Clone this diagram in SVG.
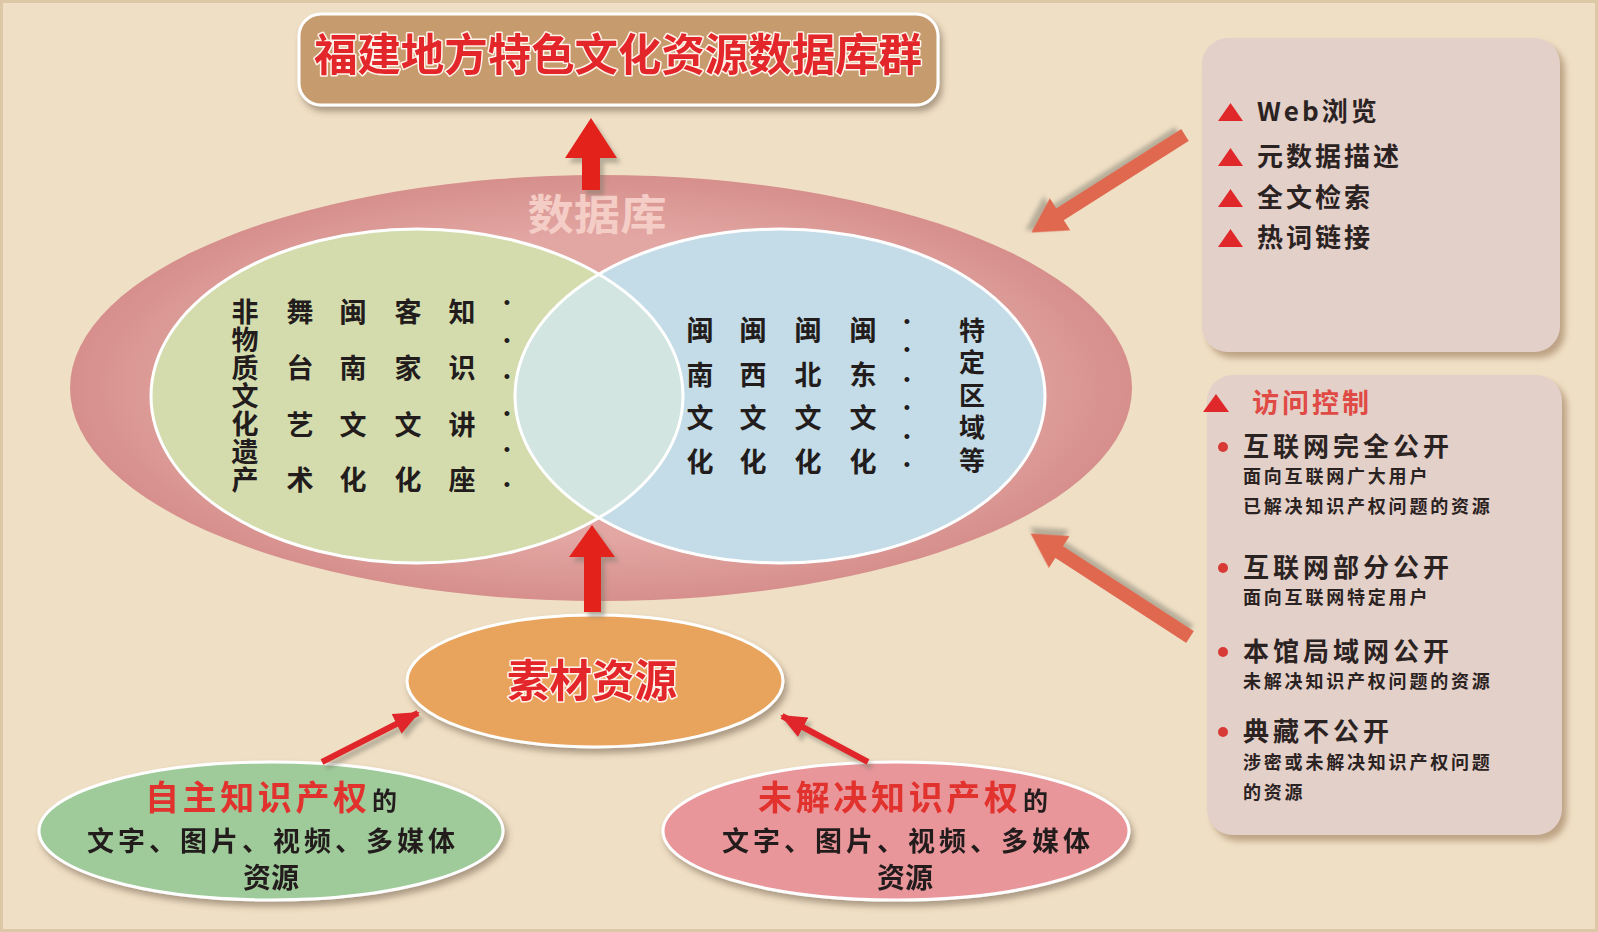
<svg xmlns="http://www.w3.org/2000/svg" width="1598" height="932" viewBox="0 0 1598 932">
<defs>
<style>
.cjk{font-family:"Noto Sans CJK SC","Noto Sans",sans-serif;font-weight:bold}
.red3d{fill:#e2262a;stroke:#fff3ea;stroke-width:3;paint-order:stroke;stroke-linejoin:round}
.blk{fill:#231c1c}
.ptxt{fill:#2b2222}
.venn{font-size:27px;text-anchor:middle}
.vert{writing-mode:vertical-rl;text-anchor:start}
.dot{font-family:"Liberation Sans",Arial,sans-serif;font-size:18px;text-anchor:middle;fill:#231c1c}
.tri{fill:#e0282a}
.bul{fill:#d83a36}
</style>
<filter id="sh" x="-10%" y="-20%" width="125%" height="150%">
<feDropShadow dx="3" dy="5" stdDeviation="3" flood-color="#5a4530" flood-opacity="0.45"/>
</filter>
<filter id="shs" x="-20%" y="-20%" width="150%" height="150%">
<feDropShadow dx="4" dy="5" stdDeviation="2" flood-color="#7d7a6a" flood-opacity="0.5"/>
</filter>
<filter id="shp" x="-10%" y="-10%" width="125%" height="125%">
<feDropShadow dx="5" dy="6" stdDeviation="3" flood-color="#b89c7e" flood-opacity="0.9"/>
</filter>
<radialGradient id="gPink" cx="50%" cy="50%" r="50%">
<stop offset="0.7" stop-color="#e3a7a3"/>
<stop offset="1" stop-color="#d68f8c"/>
</radialGradient>
<clipPath id="cGreen"><ellipse cx="417" cy="396" rx="266" ry="167"/></clipPath>
<marker id="ah" markerUnits="userSpaceOnUse" markerWidth="26" markerHeight="22" viewBox="0 0 26 22" refX="24" refY="11" orient="auto">
<path d="M0,0 L26,11 L0,22 Z" fill="#e0282a"/>
</marker>
</defs>

<rect x="0" y="0" width="1598" height="932" fill="#efdfc5"/>
<rect x="1.5" y="1.5" width="1595" height="929" fill="none" stroke="#dcc7a6" stroke-width="3"/>

<g id="title" filter="url(#sh)">
<rect x="299" y="14" width="639" height="91" rx="22" fill="#c69c6e" stroke="#ffffff" stroke-width="3"/>
<text class="cjk red3d" x="314" y="71" font-size="44" textLength="608" lengthAdjust="spacingAndGlyphs">福建地方特色文化资源数据库群</text>
</g>

<g id="database">
<ellipse cx="601" cy="388" rx="531" ry="213" fill="url(#gPink)"/>
<text class="cjk" x="597" y="230" font-size="42" text-anchor="middle" fill="#f4cdc6" textLength="139" lengthAdjust="spacingAndGlyphs">数据库</text>
</g>

<g id="venn-left">
<ellipse cx="417" cy="396" rx="266" ry="167" fill="#d4dcae"/>
</g>
<g id="venn-right">
<ellipse cx="780" cy="396" rx="265" ry="167" fill="#c3dce7"/>
<ellipse cx="780" cy="396" rx="265" ry="167" fill="#d2e5e0" clip-path="url(#cGreen)"/>
<ellipse cx="417" cy="396" rx="266" ry="167" fill="none" stroke="#ffffff" stroke-width="3"/>
<ellipse cx="780" cy="396" rx="265" ry="167" fill="none" stroke="#ffffff" stroke-width="3"/>
</g>

<g id="venn-left-text" class="cjk blk venn">
<text class="vert" x="245" y="298.5" letter-spacing="1">非物质文化遗产</text>
<text x="300" y="322">舞</text><text x="300" y="378">台</text><text x="300" y="435">艺</text><text x="300" y="490">术</text>
<text x="353" y="322">闽</text><text x="353" y="378">南</text><text x="353" y="435">文</text><text x="353" y="490">化</text>
<text x="408" y="322">客</text><text x="408" y="378">家</text><text x="408" y="435">文</text><text x="408" y="490">化</text>
<text x="462" y="322">知</text><text x="462" y="378">识</text><text x="462" y="435">讲</text><text x="462" y="490">座</text>
</g>
<g>
<text class="dot" x="507" y="309">•</text><text class="dot" x="507" y="347">•</text><text class="dot" x="507" y="383">•</text><text class="dot" x="507" y="420">•</text><text class="dot" x="507" y="456">•</text><text class="dot" x="507" y="491">•</text>
</g>

<g id="venn-right-text" class="cjk blk venn">
<text x="700" y="340">闽</text><text x="700" y="385">南</text><text x="700" y="428">文</text><text x="700" y="472">化</text>
<text x="753" y="340">闽</text><text x="753" y="385">西</text><text x="753" y="428">文</text><text x="753" y="472">化</text>
<text x="808" y="340">闽</text><text x="808" y="385">北</text><text x="808" y="428">文</text><text x="808" y="472">化</text>
<text x="863" y="340">闽</text><text x="863" y="385">东</text><text x="863" y="428">文</text><text x="863" y="472">化</text>
<text class="vert" x="972" y="317" font-size="26" letter-spacing="6.5">特定区域等</text>
</g>
<g>
<text class="dot" x="907" y="328">•</text><text class="dot" x="907" y="356">•</text><text class="dot" x="907" y="386">•</text><text class="dot" x="907" y="414">•</text><text class="dot" x="907" y="443">•</text><text class="dot" x="907" y="471">•</text>
</g>

<g id="material" filter="url(#sh)">
<ellipse cx="595" cy="681" rx="188" ry="66" fill="#e8a35c" stroke="#ffffff" stroke-width="3"/>
<text class="cjk red3d" x="507" y="697" font-size="44" textLength="170" lengthAdjust="spacingAndGlyphs">素材资源</text>
</g>

<g id="own-ip" filter="url(#sh)">
<ellipse cx="271" cy="831" rx="232" ry="69" fill="#9fcb9b" stroke="#ffffff" stroke-width="3"/>
<text class="cjk" x="145" y="810" font-size="34" fill="#e2302e" textLength="222" lengthAdjust="spacing">自主知识产权</text>
<text class="cjk blk" x="372" y="810" font-size="25">的</text>
<text class="cjk blk" x="87" y="851" font-size="27" textLength="368" lengthAdjust="spacing">文字、图片、视频、多媒体</text>
<text class="cjk blk" x="271" y="888" font-size="28" text-anchor="middle">资源</text>
</g>

<g id="unresolved-ip" filter="url(#sh)">
<ellipse cx="896" cy="831" rx="233" ry="69" fill="#e8969a" stroke="#ffffff" stroke-width="3"/>
<text class="cjk" x="758" y="810" font-size="34" fill="#e2302e" textLength="260" lengthAdjust="spacing">未解决知识产权</text>
<text class="cjk blk" x="1023" y="810" font-size="25">的</text>
<text class="cjk blk" x="722" y="851" font-size="27" textLength="368" lengthAdjust="spacing">文字、图片、视频、多媒体</text>
<text class="cjk blk" x="905" y="888" font-size="28" text-anchor="middle">资源</text>
</g>

<g id="features-panel">
<rect x="1202" y="38" width="358" height="314" rx="26" fill="#e3d0c9" filter="url(#shp)"/>
<path class="tri" d="M1218,121 L1243,121 L1230.5,103 Z"/>
<path class="tri" d="M1218,166 L1243,166 L1230.5,148 Z"/>
<path class="tri" d="M1218,207 L1243,207 L1230.5,189 Z"/>
<path class="tri" d="M1218,247 L1243,247 L1230.5,229 Z"/>
<g class="cjk ptxt" font-size="26" letter-spacing="3">
<text x="1257" y="121">Web浏览</text>
<text x="1257" y="166">元数据描述</text>
<text x="1257" y="207">全文检索</text>
<text x="1257" y="247">热词链接</text>
</g>
</g>

<g id="access-panel">
<rect x="1207" y="375" width="355" height="460" rx="26" fill="#e3d0c9" filter="url(#shp)"/>
<path class="tri" d="M1203,412 L1229,412 L1216,394 Z"/>
<text class="cjk" x="1252" y="413" font-size="27" letter-spacing="3" fill="#e04a45">访问控制</text>
<circle class="bul" cx="1223" cy="447" r="5"/>
<circle class="bul" cx="1223" cy="568" r="5"/>
<circle class="bul" cx="1223" cy="652" r="5"/>
<circle class="bul" cx="1223" cy="732" r="5"/>
<g class="cjk ptxt" font-size="26" letter-spacing="4">
<text x="1243" y="456">互联网完全公开</text>
<text x="1243" y="577">互联网部分公开</text>
<text x="1243" y="661">本馆局域网公开</text>
<text x="1243" y="741">典藏不公开</text>
</g>
<g class="cjk ptxt" font-size="18" letter-spacing="2.8">
<text x="1243" y="483">面向互联网广大用户</text>
<text x="1243" y="513">已解决知识产权问题的资源</text>
<text x="1243" y="604">面向互联网特定用户</text>
<text x="1243" y="688">未解决知识产权问题的资源</text>
<text x="1243" y="769">涉密或未解决知识产权问题</text>
<text x="1243" y="799">的资源</text>
</g>
</g>

<g id="connectors">
<path d="M591,118 L617,158 L600,158 L600,190 L582,190 L582,158 L565,158 Z" fill="#e3201f" filter="url(#shs)"/>
<path d="M592,525 L615,557 L601,557 L601,612 L584,612 L584,557 L569,557 Z" fill="#e3201f" filter="url(#shs)"/>
<line x1="322" y1="762" x2="418" y2="713" stroke="#e0282a" stroke-width="6" marker-end="url(#ah)" filter="url(#shs)"/>
<line x1="868" y1="762" x2="782" y2="716" stroke="#e0282a" stroke-width="6" marker-end="url(#ah)" filter="url(#shs)"/>
<path transform="translate(1185,135) rotate(147.6)" d="M0,-7 L148,-7 L148,-19 L182,0 L148,19 L148,7 L0,7 Z" fill="#e0684f" filter="url(#shs)"/>
<path transform="translate(1190,637) rotate(-147)" d="M0,-7 L156,-7 L156,-19 L190,0 L156,19 L156,7 L0,7 Z" fill="#e0684f" filter="url(#shs)"/>
</g>
</svg>
